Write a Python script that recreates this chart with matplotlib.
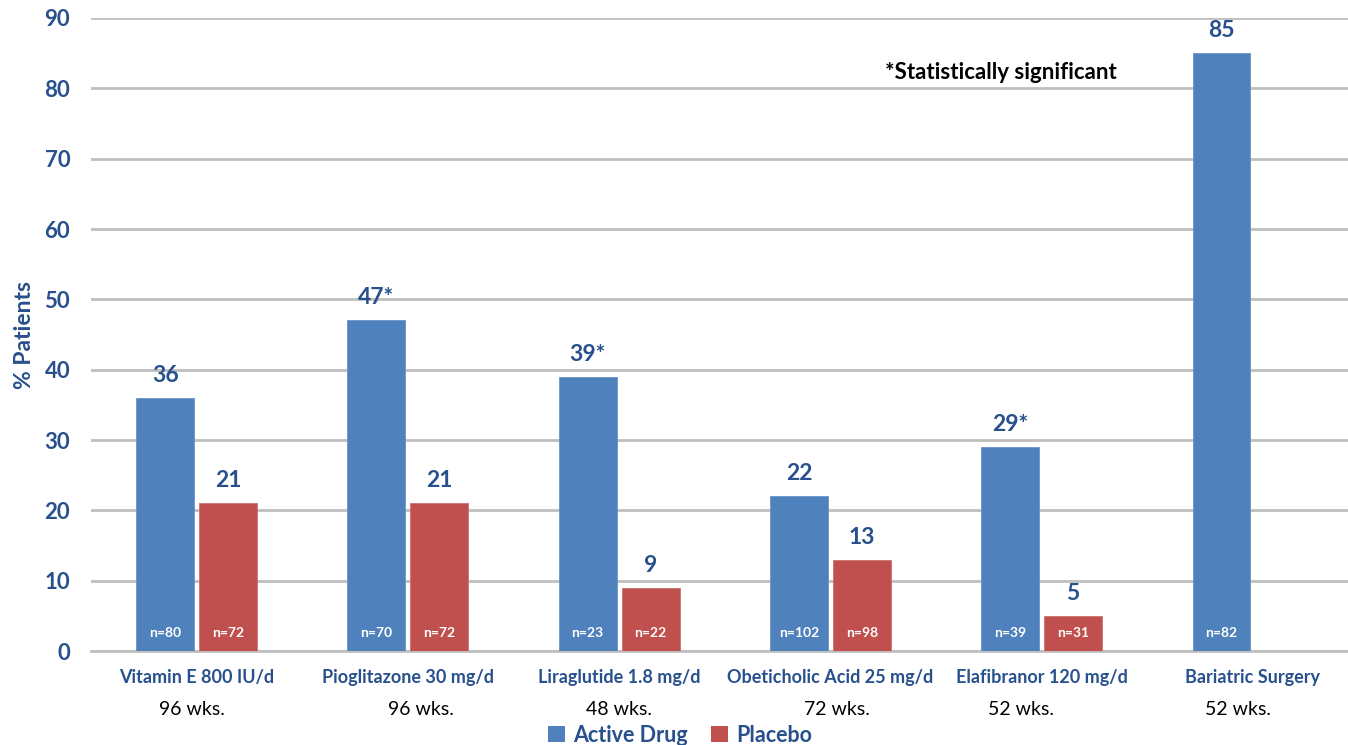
import numpy as np
import matplotlib
matplotlib.use("Agg")
import matplotlib.pyplot as plt
from matplotlib.patches import Patch

plt.rcParams['font.family'] = ['Lato', 'DejaVu Sans']

# Data
treatments = ["Vitamin E 800 IU/d", "Pioglitazone 30 mg/d", "Liraglutide 1.8 mg/d",
              "Obeticholic Acid 25 mg/d", "Elafibranor 120 mg/d", "Bariatric Surgery"]
durations = ["96 wks.", "96 wks.", "48 wks.", "72 wks.", "52 wks.", "52 wks."]
active = [36, 47, 39, 22, 29, 85]
placebo = [21, 21, 9, 13, 5, None]
active_labels = ["36", "47*", "39*", "22", "29*", "85"]
n_active = [80, 70, 23, 102, 39, 82]
n_placebo = [72, 72, 22, 98, 31, None]

blue = '#4F81BD'
red = '#C0504D'
txt_blue = '#27508C'
grid_col = '#BFBFBF'

fig = plt.figure(figsize=(13.48, 7.45), dpi=100)
ax = fig.add_axes([91/1348, 1 - 651/745, 1 - 91/1348, (651 - 18)/745])

x = np.arange(len(treatments))
w = 0.274
off = 0.149

ax.bar(x - off, active, w, color=blue, edgecolor='#6A93C8', linewidth=0.6, zorder=3)
px = [i for i in x if placebo[i] is not None]
pv = [placebo[i] for i in px]
ax.bar(np.array(px) + off, pv, w, color=red, edgecolor='#CC7270', linewidth=0.6, zorder=3)

# value labels above bars, sample sizes inside
for i in x:
    ax.text(i - off, active[i] + 1.7, active_labels[i], ha='center', va='bottom',
            fontsize=16.5, fontweight='bold', color=txt_blue)
    ax.text(i - off, 2.5, f"n={n_active[i]}", ha='center', va='center',
            fontsize=10, fontweight='bold', color='white', zorder=4)
    if placebo[i] is not None:
        ax.text(i + off, placebo[i] + 1.7, str(placebo[i]), ha='center', va='bottom',
                fontsize=16.5, fontweight='bold', color=txt_blue)
        ax.text(i + off, 2.5, f"n={n_placebo[i]}", ha='center', va='center',
                fontsize=10, fontweight='bold', color='white', zorder=4)

ax.set_ylim(0, 90)
ax.set_xlim(-0.5, 5.45)
ax.set_yticks(np.arange(0, 91, 10))
ax.tick_params(axis='y', length=0, pad=15, labelsize=16, labelcolor=txt_blue)
for lab in ax.get_yticklabels():
    lab.set_fontweight('bold')
ax.set_xticks([])
ax.yaxis.grid(True, color=grid_col, linewidth=2, zorder=0)
ax.set_axisbelow(True)
for s in ['top', 'right', 'left']:
    ax.spines[s].set_visible(False)
ax.spines['bottom'].set_color(grid_col)
ax.spines['bottom'].set_linewidth(2)

ax.set_ylabel("% Patients", fontsize=16.5, fontweight='bold', color=txt_blue, labelpad=7)

# category and duration labels
dur_shift = [-0.02, 0.06, 0.0, 0.03, -0.1, -0.07]
for i in x:
    ax.text(i, -3.7, treatments[i], ha='center', va='center', fontsize=13,
            fontweight='bold', color=txt_blue, clip_on=False)
    ax.text(i + dur_shift[i], -8.3, durations[i], ha='center', va='center', fontsize=14,
            color='black', clip_on=False)

ax.text(3.258, 82.3, "*Statistically significant", ha='left', va='center', fontsize=16,
        fontweight='bold', color='black')

handles = [Patch(facecolor=blue), Patch(facecolor=red)]
leg = fig.legend(handles, ["Active Drug", "Placebo"], loc='center',
                 bbox_to_anchor=(680/1348, 1 - 735/745),
                 ncol=2, frameon=False, fontsize=15.5, handlelength=0.8, handleheight=0.8,
                 handletextpad=0.35, columnspacing=1.1)
for t in leg.get_texts():
    t.set_color(txt_blue)
    t.set_fontweight('bold')

fig.savefig("out.png", dpi=100)
